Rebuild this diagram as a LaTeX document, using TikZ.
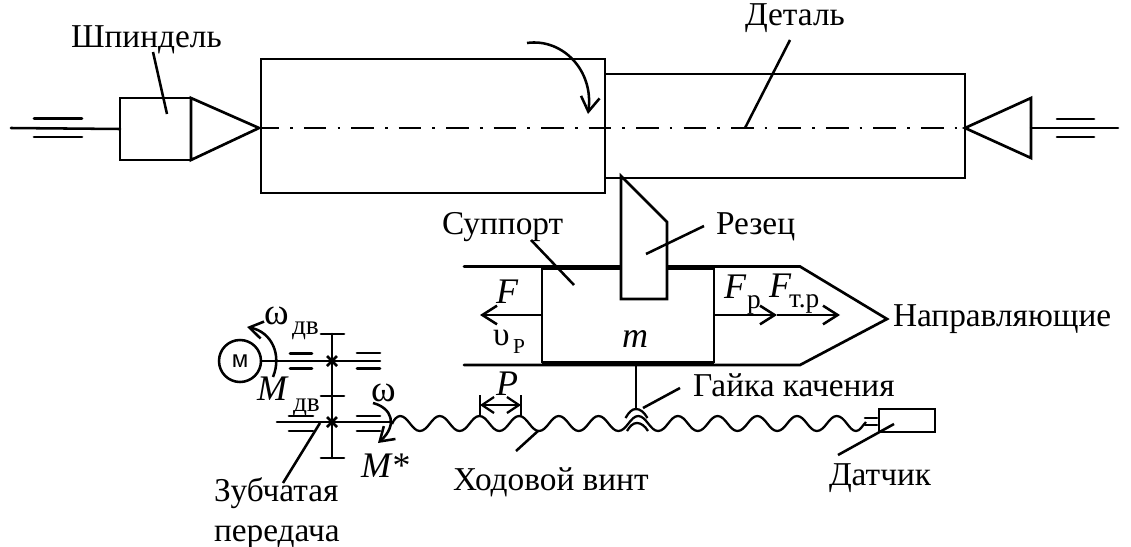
\documentclass[tikz,border=0pt]{standalone}
\usepackage{fontspec}
\setmainfont{Liberation Serif}
\newfontfamily\sansf{Liberation Sans}
\usetikzlibrary{arrows.meta}
\newcommand{\bigtxt}{\fontsize{25}{27}\selectfont}
\newcommand{\mathtxt}{\fontsize{27}{29}\selectfont\itshape}
\newcommand{\greektxt}{\fontsize{25}{28}\selectfont}
\newcommand{\subtxt}{\fontsize{20.5}{23}\selectfont}
\tikzset{
  x=0.75pt,y=-0.75pt,
  ln/.style={line width=2pt,line cap=round,line join=miter},
  thn/.style={line width=1.9pt,line cap=round},
  leader/.style={line width=1.9pt},
  brg/.style={line width=2pt,line cap=round},
  arr/.style={line width=1.9pt,-{Straight Barb[length=11pt,width=14pt,line width=1.9pt]}},
  marr/.style={line width=1.9pt,-{Straight Barb[length=10pt,width=13pt,line width=1.9pt]}},
  darr/.style={line width=1.7pt,{Straight Barb[length=9pt,width=12pt,line width=1.7pt]}-{Straight Barb[length=9pt,width=12pt,line width=1.7pt]}},
  lab/.style={inner sep=0pt,outer sep=0pt,anchor=base west,font=\bigtxt},
  mlab/.style={inner sep=0pt,outer sep=0pt,anchor=base west,font=\mathtxt},
  glab/.style={inner sep=0pt,outer sep=0pt,anchor=base west,font=\greektxt},
  wlab/.style={inner sep=0pt,outer sep=0pt,anchor=base west,font=\fontsize{28}{30}\selectfont},
  sublab/.style={inner sep=0pt,outer sep=0pt,anchor=base west,font=\subtxt},
  part/.style={draw,line width=2pt,inner sep=0pt,outer sep=0pt,anchor=north west},
}
\begin{document}
\begin{tikzpicture}
\useasboundingbox (0,0) rectangle (1131,546);
% axis
\coordinate (axL) at (259,128); \coordinate (axR) at (965,128);
\draw[line width=2.1pt,dash pattern=on 17pt off 8.3pt on 2pt off 8.3pt,dash phase=2pt] (axL) -- (axR);
% parts
\node[part,minimum width=344*0.75pt,minimum height=134*0.75pt] (blank) at (261,59) {};
\node[part,minimum width=360*0.75pt,minimum height=104*0.75pt] (detail) at (605,74) {};
\node[part,minimum width=71*0.75pt,minimum height=62*0.75pt] (spbox) at (120,98) {};
\draw[ln] (191,98) -- (259,128) -- (191,160) -- cycle;
\draw[ln] (965,128) -- (1031,98) -- (1031,158) -- cycle;
% shafts
\coordinate (shL) at (11,128);
\draw[thn] (shL) -- (spbox.west);
\draw[brg] (34,118.5) -- (82,118.5) (34,137) -- (82,137);
\coordinate (shR) at (1118,128); \coordinate (shRs) at (1031,128);
\draw[thn] (shRs) -- (shR);
\draw[brg] (1057,119) -- (1094,119) (1057,137) -- (1094,137);
% rotation arrow
\coordinate (rotA) at (527,43); \coordinate (rotB) at (588,114);
\draw[arr] (rotA) .. controls (562,38) and (594,70) .. (rotB);
% guides
\draw[ln] (464,266.5) -- (800,266.5) -- (887,319) -- (800,365) -- (464,365);
% carriage
\node[part,fill=white,minimum width=172*0.75pt,minimum height=93*0.75pt] (carr) at (542,269) {};
\draw[line width=3.2pt] (542,267.5) -- (714,267.5);
\draw[line width=3.2pt] (542,363.5) -- (714,363.5);
% cutter
\draw[ln,fill=white] (621,176) -- (667,222) -- (667,299) -- (621,299) -- cycle;
\coordinate (cutin) at (646,254);
\coordinate (supin) at (574,285);
\coordinate (F1) at (480,315); \coordinate (F2) at (777,315); \coordinate (F3) at (840,315);
\draw[arr] (carr.west|-F1) -- (F1);
\draw[arr] (carr.east|-F2) -- (F2);
\draw[arr] (F2) -- (F3);
% labels
\node[lab] (tSp) at (71,47) {Шпиндель};
\node[lab] (tDet) at (745,26) {Деталь};
\node[lab] (tSup) at (442,234) {Суппорт};
\node[lab] (tRez) at (716,234) {Резец};
\node[lab] (tNap) at (893,326) {Направляющие};
\node[lab] (tGai) at (693,396) {Гайка качения};
\node[lab] (tDat) at (829,485) {Датчик};
\node[lab] (tHod) at (453,490) {Ходовой винт};
\node[lab] (tZub) at (214,501) {Зубчатая};
\node[lab] (tPer) at (214,541) {передача};
\node[mlab] (tF) at (496,303) {F};
\node[mlab] (tFp) at (724,298) {F};
\node[sublab] (tFps) at (747,308) {р};
\node[mlab] (tFt) at (769,297) {F};
\node[sublab] (tFts) at (789,307) {т.р};
\node[glab] (tU) at (493,345) {υ};
\node[sublab,font=\fontsize{16}{18}\selectfont] (tUs) at (513,353) {Р};
\node[mlab] (tm) at (622,347) {m};
\node[mlab] (tP) at (496,395) {P};
\node[wlab] (tW) at (264,324) {ω};
\node[sublab] (tWs) at (292,334) {дв};
\node[mlab] (tM) at (257,400) {M};
\node[sublab] (tMs) at (293,411) {дв};
\node[wlab] (tw) at (371,401) {ω};
\node[mlab] (tMst) at (361,477) {M*};
% leaders
\draw[leader] (153,52) -- (167,114);
\coordinate (detin) at (745,128);
\draw[leader] (790,40) -- (detin);
\draw[leader] (531,240) -- (supin);
\draw[leader] (704,226) -- (cutin);
% motor
\node[circle,draw,line width=1.9pt,minimum size=42*0.75pt,inner sep=0pt,outer sep=0pt,font=\sansf\fontsize{18}{18}\selectfont] (mot) at (240,361) {м};
\coordinate (up) at (380,361);
\draw[thn] (mot.east) -- (up);
\draw[brg] (290,353.5) -- (312,353.5) (290,368.5) -- (312,368.5) (357,353) -- (380,353) (357,368.5) -- (380,368.5);
% gears
\coordinate (gT) at (332,334); \coordinate (gM) at (332,396); \coordinate (gB) at (332,458);
\draw[thn] (gT) -- (gB);
\draw[brg] (321,334) -- (344,334) (321,396) -- (344,396) (321,458) -- (344,458);
\coordinate (lowL) at (277,422); \coordinate (lowR) at (392,422);
\draw[thn] (lowL) -- (lowR);
\draw[brg] (289,416) -- (313,416) (289,431) -- (313,431) (357,416) -- (380,416) (357,431) -- (380,431);
\foreach \c in {361,422} \draw[line width=2pt] (327,\c-5) -- (337,\c+5) (327,\c+5) -- (337,\c-5);
% moment arrows
\coordinate (wA) at (273,377); \coordinate (wB) at (247,327);
\draw[marr] (wA) .. controls (282,355) and (272,332) .. (wB);
\coordinate (wc) at (373,403); \coordinate (wd) at (378,443);
\draw[marr] (wc) .. controls (392,408) and (398,425) .. (wd);
\draw[leader] (320,423) -- (283,483);
% screw
\draw[line width=1.7pt] (392,424) .. controls (394,419) and (397,416.5) .. (400,416)
 \foreach \k in {0,...,10} { .. controls ({400+39.7*\k+8},416) and ({400+39.7*\k+12},431) .. ({400+39.7*\k+19.85},431) .. controls ({400+39.7*\k+28},431) and ({400+39.7*\k+32},416) .. ({400+39.7*\k+39.7},416) }
 .. controls (845,416) and (849,431) .. (856,431) .. controls (860,431) and (862,426) .. (866,422);
\coordinate (hodin) at (538,431);
\draw[leader] (hodin) -- (516,451);
% nut
\coordinate (nutS) at (636,365); \coordinate (nutT) at (636,409);
\draw[thn] (nutS) -- (nutT);
\draw[line width=1.7pt] (625.5,418) .. controls (629,412) and (632,409) .. (636,409) .. controls (640,409) and (644,412) .. (647.5,418);
\draw[line width=1.7pt] (627,431) .. controls (630,426) and (633,423) .. (637,423) .. controls (641,423) and (645,426) .. (648,431);
\draw[leader] (680,388) -- (643,408);
% dimension P
\coordinate (Pl) at (480,405); \coordinate (Pr) at (521,405);
\draw[line width=1.7pt] (Pl|-0,395) -- (Pl|-0,416) (Pr|-0,395) -- (Pr|-0,416);
\draw[darr] (Pl) -- (Pr);
% sensor
\node[part,fill=white,minimum width=56*0.75pt,minimum height=23*0.75pt] (sens) at (879,409) {};
\draw[brg] (865,418) -- (877,418) (865,425) -- (877,425);
\draw[leader] (838,455) -- (894,424);
\end{tikzpicture}
\end{document}
